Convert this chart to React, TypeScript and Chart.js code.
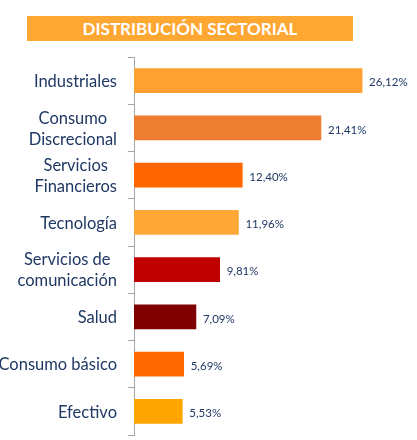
import React, { useEffect, useRef } from "react";
import { Chart, registerables, Plugin } from "chart.js";

Chart.register(...registerables);

const sectors: string[][] = [
  ["Industriales"],
  ["Consumo", "Discrecional"],
  ["Servicios", "Financieros"],
  ["Tecnología"],
  ["Servicios de", "comunicación"],
  ["Salud"],
  ["Consumo básico"],
  ["Efectivo"],
];
const weights: number[] = [26.12, 21.41, 12.4, 11.96, 9.81, 7.09, 5.69, 5.53];
const barColors: string[] = [
  "#FFA033",
  "#ED7D31",
  "#FF6600",
  "#FFA838",
  "#C00000",
  "#7F0000",
  "#FF6A00",
  "#FFA500",
];

const TEXT_COLOR = "#1F3864";
const FONT = "Lato, 'Open Sans', sans-serif";

// category labels: widest line right-aligned to the axis, lines centred on each other
const categoryLabels: Plugin<"bar"> = {
  id: "categoryLabels",
  afterDraw(chart) {
    const { ctx } = chart;
    const y = chart.scales.y;
    const right = y.right - 17;
    ctx.save();
    ctx.font = `16.5px ${FONT}`;
    ctx.fillStyle = TEXT_COLOR;
    ctx.textAlign = "center";
    ctx.textBaseline = "middle";
    sectors.forEach((lines, i) => {
      const cy = y.getPixelForValue(i);
      const widest = Math.max(...lines.map((l) => ctx.measureText(l).width));
      const cx = right - widest / 2;
      const lh = 21;
      lines.forEach((line, j) => {
        ctx.fillText(line, cx, cy + (j - (lines.length - 1) / 2) * lh + 1);
      });
    });
    ctx.restore();
  },
};

// value labels just past the bar end
const valueLabels: Plugin<"bar"> = {
  id: "valueLabels",
  afterDatasetsDraw(chart) {
    const { ctx } = chart;
    const meta = chart.getDatasetMeta(0);
    ctx.save();
    ctx.font = `11.5px ${FONT}`;
    ctx.fillStyle = TEXT_COLOR;
    ctx.textAlign = "left";
    ctx.textBaseline = "middle";
    meta.data.forEach((bar, i) => {
      const text = weights[i].toFixed(2).replace(".", ",") + "%";
      ctx.fillText(text, bar.x + 7, bar.y + 2);
    });
    ctx.restore();
  },
};

const App: React.FC = () => {
  const canvasRef = useRef<HTMLCanvasElement | null>(null);
  const chartRef = useRef<Chart<"bar", number[], string[]> | null>(null);

  useEffect(() => {
    if (chartRef.current) {
      chartRef.current.destroy();
    }
    if (canvasRef.current) {
      chartRef.current = new Chart(canvasRef.current, {
        type: "bar",
        data: {
          labels: sectors,
          datasets: [
            {
              data: weights,
              backgroundColor: barColors,
              borderWidth: 0,
              barThickness: 24,
            },
          ],
        },
        options: {
          indexAxis: "y",
          animation: false,
          responsive: true,
          maintainAspectRatio: false,
          layout: { padding: { top: 57, right: 21, bottom: 5, left: 0 } },
          scales: {
            x: {
              display: false,
              min: 0,
              max: 30,
            },
            y: {
              afterFit: (scale) => {
                scale.width = 134;
              },
              ticks: { display: false },
              grid: {
                drawOnChartArea: false,
                drawTicks: true,
                tickLength: 6,
                color: "#A6A6A6",
                offset: true,
              },
              border: { color: "#A6A6A6", width: 1 },
            },
          },
          plugins: {
            legend: { display: false },
            tooltip: { enabled: false },
          },
        },
        plugins: [categoryLabels, valueLabels],
      });
    }
    return () => {
      if (chartRef.current) {
        chartRef.current.destroy();
        chartRef.current = null;
      }
    };
  }, []);

  return (
    <div
      style={{
        position: "fixed",
        left: 0,
        top: 0,
        width: 417,
        height: 440,
        background: "#FFFFFF",
      }}
    >
      <div
        style={{
          position: "absolute",
          left: 27,
          top: 16,
          width: 326,
          height: 25,
          background: "#FFA733",
          color: "#FFFFFF",
          fontFamily: FONT,
          fontWeight: 700,
          fontSize: 17,
          lineHeight: "25px",
          textAlign: "center",
        }}
      >
        DISTRIBUCIÓN SECTORIAL
      </div>
      <div style={{ position: "absolute", left: 0, top: 0, width: 417, height: 440 }}>
        <canvas ref={canvasRef} />
      </div>
    </div>
  );
};

export default App;
